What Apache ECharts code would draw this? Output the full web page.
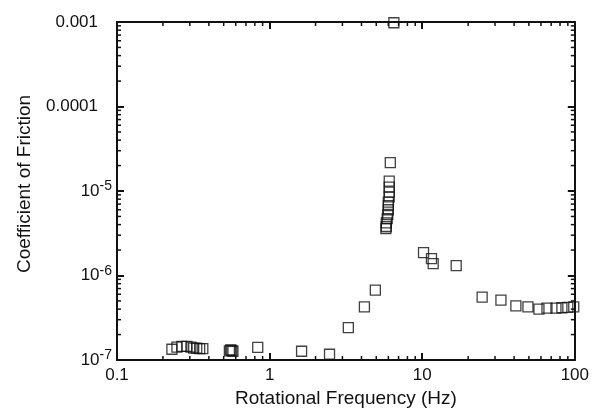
<!DOCTYPE html>
<html>
<head>
<meta charset="utf-8">
<script src="https://cdn.jsdelivr.net/npm/echarts@6/dist/echarts.min.js"></script>
<style>
  html, body { margin: 0; padding: 0; background: #fff; }
  #chart { width: 592px; height: 413px; }
</style>
</head>
<body>
<div id="chart"></div>
<script>
// rotational frequency (Hz) and coefficient of friction
var freq = [0.229, 0.247, 0.266, 0.287, 0.305, 0.318, 0.333, 0.348, 0.365,
            0.545, 0.555, 0.565, 0.575,
            0.836, 1.62, 2.47, 3.28, 4.18, 4.93,
            5.78, 5.82, 5.82, 5.9, 5.95, 6.0, 6.0, 6.0, 6.08, 6.08, 6.08, 6.08, 6.18,
            6.52,
            10.2, 11.5, 11.8, 16.7, 24.7, 32.8, 41.1, 49.3, 58.2, 65.7, 75.2, 82.3, 90, 98.4];
var cof = [1.34e-7, 1.42e-7, 1.45e-7, 1.45e-7, 1.42e-7, 1.38e-7, 1.38e-7, 1.36e-7, 1.36e-7,
           1.28e-7, 1.32e-7, 1.30e-7, 1.27e-7,
           1.41e-7, 1.27e-7, 1.17e-7, 2.42e-7, 4.25e-7, 6.7e-7,
           3.6e-6, 3.8e-6, 4.2e-6, 4.7e-6, 5.3e-6, 6.0e-6, 6.7e-6, 7.4e-6, 8.5e-6, 9.7e-6, 1.11e-5, 1.31e-5, 2.17e-5,
           9.8e-4,
           1.87e-6, 1.58e-6, 1.38e-6, 1.31e-6, 5.55e-7, 5.1e-7, 4.37e-7, 4.25e-7, 4.0e-7, 4.1e-7, 4.1e-7, 4.15e-7, 4.2e-7, 4.25e-7];

var xMin = 0.1, xMax = 100;
var yMin = 1e-7, yMax = 1e-3;

// minor tick values (2..9 in each decade)
var minorX = [], minorY = [];
[0.1, 1, 10].forEach(function (d) { for (var m = 2; m <= 9; m++) minorX.push(+(m * d).toPrecision(3)); });
[1e-7, 1e-6, 1e-5, 1e-4].forEach(function (d) { for (var m = 2; m <= 9; m++) minorY.push(+(m * d).toPrecision(3)); });

var points = freq.map(function (f, i) { return [f, cof[i]]; });

var chart = echarts.init(document.getElementById('chart'));
var font = 'Liberation Sans, Arial, Helvetica, sans-serif';
var ink = '#111';

function yLabel(v) {
  var e = Math.round(Math.log10(v));
  if (e === -3) return '{d|0.001}';
  if (e === -4) return '{d|0.0001}';
  return '{b|10}{s|' + e + '}';
}

function minorTicks(axis) {
  return function (params, api) {
    var v = api.value(0);
    var len = 4;
    var a, b;
    if (axis === 'x') {
      a = api.coord([v, yMin]);
      b = api.coord([v, yMax]);
      return { type: 'group', children: [
        { type: 'line', shape: { x1: a[0], y1: a[1], x2: a[0], y2: a[1] - len }, style: { stroke: ink, lineWidth: 1.5 } },
        { type: 'line', shape: { x1: b[0], y1: b[1], x2: b[0], y2: b[1] + len }, style: { stroke: ink, lineWidth: 1.5 } }
      ] };
    }
    a = api.coord([xMin, v]);
    b = api.coord([xMax, v]);
    return { type: 'group', children: [
      { type: 'line', shape: { x1: a[0], y1: a[1], x2: a[0] + len, y2: a[1] }, style: { stroke: ink, lineWidth: 1.5 } },
      { type: 'line', shape: { x1: b[0], y1: b[1], x2: b[0] - len, y2: b[1] }, style: { stroke: ink, lineWidth: 1.5 } }
    ] };
  };
}

var option = {
  animation: false,
  backgroundColor: '#fff',
  grid: { left: 117, right: 15, top: 22, bottom: 47 },
  xAxis: [
    {
      type: 'log', logBase: 10, min: xMin, max: xMax,
      name: 'Rotational Frequency (Hz)', nameLocation: 'middle', nameGap: 29,
      nameTextStyle: { fontFamily: font, fontSize: 19, color: ink },
      axisLine: { lineStyle: { color: ink, width: 2 } },
      axisTick: { inside: true, length: 7, lineStyle: { color: ink, width: 2 } },
      axisLabel: { fontFamily: font, fontSize: 17, color: ink, margin: 7, formatter: function (v) { return String(+v.toPrecision(3)); } },
      splitLine: { show: false }
    },
    {
      type: 'log', logBase: 10, min: xMin, max: xMax, position: 'top',
      axisLine: { lineStyle: { color: ink, width: 2 } },
      axisTick: { inside: true, length: 7, lineStyle: { color: ink, width: 2 } },
      axisLabel: { show: false },
      splitLine: { show: false }
    }
  ],
  yAxis: [
    {
      type: 'log', logBase: 10, min: yMin, max: yMax,
      name: 'Coefficient of Friction', nameLocation: 'middle', nameGap: 83,
      nameTextStyle: { fontFamily: font, fontSize: 19, color: ink, padding: [0, 0, 0, 14] },
      axisLine: { lineStyle: { color: ink, width: 2 } },
      axisTick: { inside: true, length: 7, lineStyle: { color: ink, width: 2 } },
      axisLabel: {
        fontFamily: font, color: ink, margin: 5,
        formatter: yLabel,
        rich: {
          d: { fontFamily: font, fontSize: 17, color: ink, padding: [0, 14, 0, 0] },
          b: { fontFamily: font, fontSize: 17, color: ink },
          s: { fontFamily: font, fontSize: 14, color: ink, verticalAlign: 'top', padding: [0, 0, 9, 0] }
        }
      },
      splitLine: { show: false }
    },
    {
      type: 'log', logBase: 10, min: yMin, max: yMax, position: 'right',
      axisLine: { lineStyle: { color: ink, width: 2 } },
      axisTick: { inside: true, length: 7, lineStyle: { color: ink, width: 2 } },
      axisLabel: { show: false },
      splitLine: { show: false }
    }
  ],
  series: [
    {
      type: 'custom', xAxisIndex: 0, yAxisIndex: 0, silent: true, clip: false,
      renderItem: minorTicks('x'),
      data: minorX.map(function (v) { return [v]; }),
      encode: { x: 0 }
    },
    {
      type: 'custom', xAxisIndex: 0, yAxisIndex: 0, silent: true, clip: false,
      renderItem: minorTicks('y'),
      data: minorY.map(function (v) { return [v]; }),
      encode: { y: 0 }
    },
    {
      type: 'scatter', xAxisIndex: 0, yAxisIndex: 0,
      symbol: 'rect', symbolSize: 10, clip: false,
      itemStyle: { color: 'rgba(255,255,255,0)', borderColor: ink, borderWidth: 1.3 },
      data: points
    }
  ]
};

chart.setOption(option);
</script>
</body>
</html>
